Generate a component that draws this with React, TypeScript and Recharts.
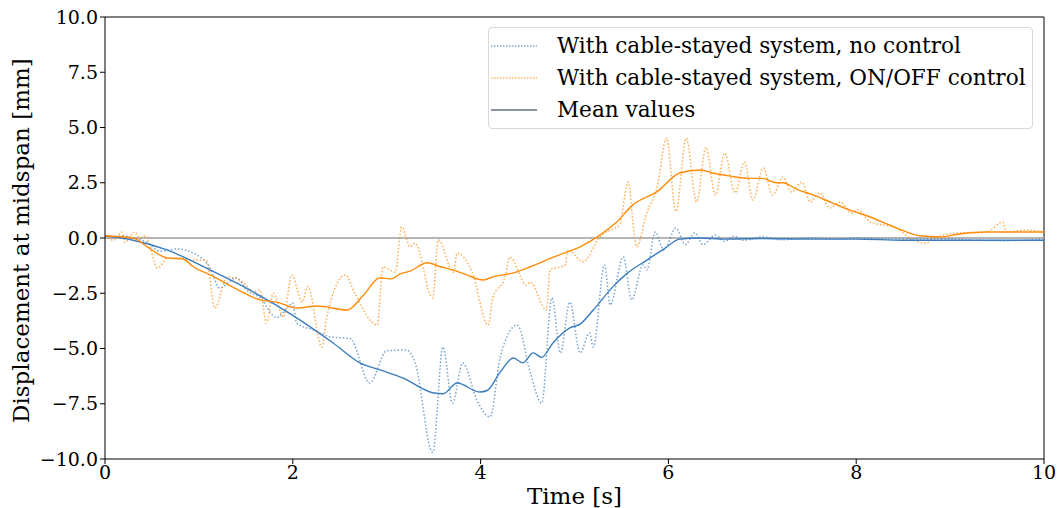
import {
  LineChart,
  Line,
  XAxis,
  YAxis,
  ReferenceLine,
} from "recharts";

// displacement at midspan, uncontrolled cable-stayed system (raw trace)
const noControlT = [
  0, 0.1, 0.2, 0.3, 0.45, 0.59, 0.77, 0.98, 1.12, 1.22, 1.4, 1.51, 1.65, 1.83,
  1.92, 2.0, 2.04, 2.22, 2.4, 2.61, 2.82, 3.0, 3.21, 3.3, 3.49, 3.6, 3.7, 3.81,
  3.96, 4.1, 4.21, 4.39, 4.53, 4.65, 4.76, 4.85, 4.95, 5.06, 5.16, 5.2, 5.32,
  5.38, 5.52, 5.61, 5.73, 5.77, 5.86, 5.95, 6.08, 6.18, 6.28, 6.37, 6.5, 6.6,
  6.7, 6.8, 7.0, 7.2, 7.5, 7.8, 8.0, 8.5, 9.0, 9.3, 9.6, 10,
];
const noControlY = [
  0.1, 0.05, 0.1, 0.0, -0.2, -0.6, -0.5, -0.77, -1.36, -2.26, -1.8, -2.35,
  -2.7, -3.6, -3.26, -2.94, -3.85, -4.16, -4.47, -4.55, -6.56, -5.1, -5.07,
  -5.6, -9.7, -4.93, -7.47, -5.66, -7.33, -8.1, -5.38, -3.94, -6.1, -7.47,
  -2.71, -5.2, -2.9, -5.2, -4.3, -4.93, -1.22, -3.03, -0.86, -2.8, -1.22,
  -1.45, 0.27, -0.54, 0.45, -0.3, 0.23, -0.3, 0.13, -0.15, 0.08, -0.1, 0.05,
  -0.08, 0.0, -0.05, 0.0, -0.05, -0.05, -0.1, -0.12, -0.05,
];

// raw trace with ON/OFF control
const onOffT = [
  0, 0.09, 0.18, 0.21, 0.32, 0.37, 0.43, 0.56, 0.67, 0.83, 0.9, 1.08, 1.17, 1.3,
  1.47, 1.58, 1.65, 1.72, 1.79, 1.9, 1.99, 2.1, 2.16, 2.31, 2.36, 2.56, 2.66,
  2.9, 2.96, 3.09, 3.16, 3.25, 3.3, 3.49, 3.55, 3.71, 3.75, 3.91, 4.08, 4.13,
  4.26, 4.31, 4.49, 4.53, 4.7, 4.74, 4.9, 4.93, 5.09, 5.27, 5.32, 5.48, 5.57,
  5.64, 5.66, 5.77, 5.88, 5.98, 6.08, 6.19, 6.3, 6.4, 6.5, 6.6, 6.71, 6.81, 6.9,
  7.01, 7.11, 7.22, 7.31, 7.42, 7.51, 7.61, 7.72, 7.83, 7.95, 8.02, 8.15, 8.43,
  8.57, 8.75, 8.82, 9.1, 9.39, 9.56, 9.6, 9.82, 10,
];
const onOffY = [
  0.1, -0.1, 0.27, -0.2, 0.27, 0.0, 0.1, -1.36, -0.9, -0.9, -1.0, -1.0, -3.17,
  -1.76, -2.0, -2.44, -2.35, -3.85, -2.5, -3.58, -1.67, -2.9, -2.2, -4.93,
  -3.62, -1.67, -2.5, -3.94, -1.31, -1.54, 0.5, -0.4, -0.23, -2.71, -0.09,
  -1.54, -0.68, -1.54, -3.94, -2.71, -1.76, -0.86, -2.13, -2.0, -3.26, -1.45,
  -1.22, -0.54, -1.08, 0.05, 0.23, 0.59, 2.53, 0.05, -0.4, 1.13, 2.31, 4.52,
  1.2, 4.52, 1.63, 4.1, 1.95, 3.84, 2.04, 3.44, 1.72, 3.17, 1.95, 2.76, 2.08,
  2.53, 1.63, 2.04, 1.36, 1.63, 1.13, 1.27, 0.72, 0.45, 0.0, -0.23, 0.0, 0.23,
  0.27, 0.72, 0.27, 0.36, 0.27,
];

// mean curves
const meanNoControlT = [
  0, 0.3, 0.66, 1.12, 1.54, 2.0, 2.43, 2.72, 2.93, 3.17, 3.49, 3.6, 3.75, 3.99,
  4.07, 4.21, 4.35, 4.45, 4.56, 4.65, 4.77, 4.95, 5.06, 5.2, 5.41, 5.56, 5.77,
  5.95, 6.12, 6.34, 6.6, 7, 7.5, 8, 8.5, 9, 9.5, 10,
];
const meanNoControlY = [
  0.1, -0.1, -0.54, -1.45, -2.35, -3.5, -4.75, -5.66, -5.97, -6.33, -7.0,
  -7.05, -6.56, -6.97, -6.9, -6.06, -5.43, -5.65, -5.2, -5.4, -4.75, -4.07,
  -3.9, -3.26, -2.2, -1.6, -1.0, -0.5, -0.05, 0.0, -0.05, -0.02, -0.05, -0.05,
  -0.1, -0.1, -0.1, -0.1,
];

const meanOnOffT = [
  0, 0.3, 0.45, 0.66, 0.83, 0.94, 1.12, 1.44, 1.65, 1.83, 2.04, 2.26, 2.58,
  2.75, 2.93, 3.05, 3.14, 3.25, 3.43, 3.57, 3.71, 3.85, 4.03, 4.13, 4.35, 4.53,
  4.7, 4.88, 5.06, 5.27, 5.45, 5.62, 5.88, 6.12, 6.34, 6.47, 6.66, 6.87, 7.0,
  7.15, 7.22, 7.37, 7.54, 7.75, 7.93, 8.15, 8.43, 8.68, 8.89, 9.1, 9.39, 10,
];
const meanOnOffY = [
  0.1, 0.0, -0.4, -0.9, -0.95, -1.3, -1.67, -2.4, -2.8, -2.9, -3.17, -3.08,
  -3.26, -2.6, -1.8, -1.85, -1.63, -1.5, -1.12, -1.3, -1.45, -1.67, -1.9,
  -1.76, -1.58, -1.3, -1.0, -0.7, -0.4, 0.13, 0.72, 1.5, 2.1, 2.94, 3.08,
  2.94, 2.8, 2.7, 2.7, 2.5, 2.5, 2.2, 1.95, 1.58, 1.27, 0.95, 0.45, 0.1, 0.05,
  0.18, 0.27, 0.27,
];

const yTicks = [-10, -7.5, -5, -2.5, 0, 2.5, 5, 7.5, 10];
const xTicks = [0, 2, 4, 6, 8, 10];

const BLUE = "#3b7dbf";
const ORANGE = "#ff8c0a";
const FONT = "'DejaVu Serif', serif";

const zip = (t: number[], y: number[]) => t.map((v, i) => ({ t: v, y: y[i] }));

const legendItems = [
  { label: "With cable-stayed system, no control", color: BLUE, dash: "1.5 1.5" },
  { label: "With cable-stayed system, ON/OFF control", color: ORANGE, dash: "1.5 1.5" },
  { label: "Mean values", color: "#1a2a40", dash: undefined },
];

const LegendBox = () => (
  <div
    style={{
      position: "absolute",
      left: 488,
      top: 27,
      width: 545,
      height: 102,
      boxSizing: "border-box",
      border: "1px solid #d8d8d8",
      borderRadius: 4,
      background: "rgba(255,255,255,0.85)",
      padding: "2px 0 0 2px",
      fontFamily: FONT,
      fontSize: 21.6,
      lineHeight: "32px",
    }}
  >
    {legendItems.map((it) => (
      <div key={it.label} style={{ display: "flex", alignItems: "center" }}>
        <svg width={66} height={10}>
          <line
            x1={0}
            x2={46}
            y1={5}
            y2={5}
            stroke={it.color}
            strokeWidth={1.2}
            strokeDasharray={it.dash}
          />
        </svg>
        <span>{it.label}</span>
      </div>
    ))}
  </div>
);

const fmt = (v: number) => v.toFixed(1).replace("-", "\u2212");

const App = () => {
  return (
    <div style={{ position: "absolute", left: 0, top: 0 }}>
      <LineChart
        width={1061}
        height={508}
        margin={{ top: 17, right: 17, bottom: 0, left: 0 }}
      >
        <XAxis
          dataKey="t"
          type="number"
          domain={[0, 10]}
          ticks={xTicks}
          allowDataOverflow
          stroke="#000"
          tickSize={5}
          tick={{ fill: "#000", fontSize: 19, fontFamily: FONT }}
          height={49}
          label={{
            value: "Time [s]",
            position: "insideBottom",
            offset: 4,
            fill: "#000",
            fontSize: 23,
            fontFamily: FONT,
          }}
        />
        <YAxis
          type="number"
          domain={[-10, 10]}
          ticks={yTicks}
          allowDataOverflow
          stroke="#000"
          tickSize={5}
          width={105}
          tickFormatter={fmt}
          tick={{ fill: "#000", fontSize: 19, fontFamily: FONT }}
          label={{
            value: "Displacement at midspan [mm]",
            angle: -90,
            position: "insideLeft",
            offset: 21,
            dy: 185,
            fill: "#000",
            fontSize: 23,
            fontFamily: FONT,
          }}
        />
        <ReferenceLine y={10} stroke="#000" />
        <ReferenceLine x={10} stroke="#000" />
        <ReferenceLine y={0} stroke="#b5b5b5" strokeWidth={2} />
        <Line
          data={zip(noControlT, noControlY)}
          dataKey="y"
          type="monotone"
          stroke={BLUE}
          strokeOpacity={0.7}
          strokeWidth={1.5}
          strokeDasharray="1.5 2"
          dot={false}
          isAnimationActive={false}
        />
        <Line
          data={zip(onOffT, onOffY)}
          dataKey="y"
          type="monotone"
          stroke={ORANGE}
          strokeOpacity={0.7}
          strokeWidth={1.5}
          strokeDasharray="1.5 2"
          dot={false}
          isAnimationActive={false}
        />
        <Line
          data={zip(meanNoControlT, meanNoControlY)}
          dataKey="y"
          type="monotone"
          stroke={BLUE}
          strokeWidth={1.4}
          dot={false}
          isAnimationActive={false}
        />
        <Line
          data={zip(meanOnOffT, meanOnOffY)}
          dataKey="y"
          type="monotone"
          stroke={ORANGE}
          strokeWidth={1.4}
          dot={false}
          isAnimationActive={false}
        />
      </LineChart>
      <LegendBox />
    </div>
  );
};

export default App;
